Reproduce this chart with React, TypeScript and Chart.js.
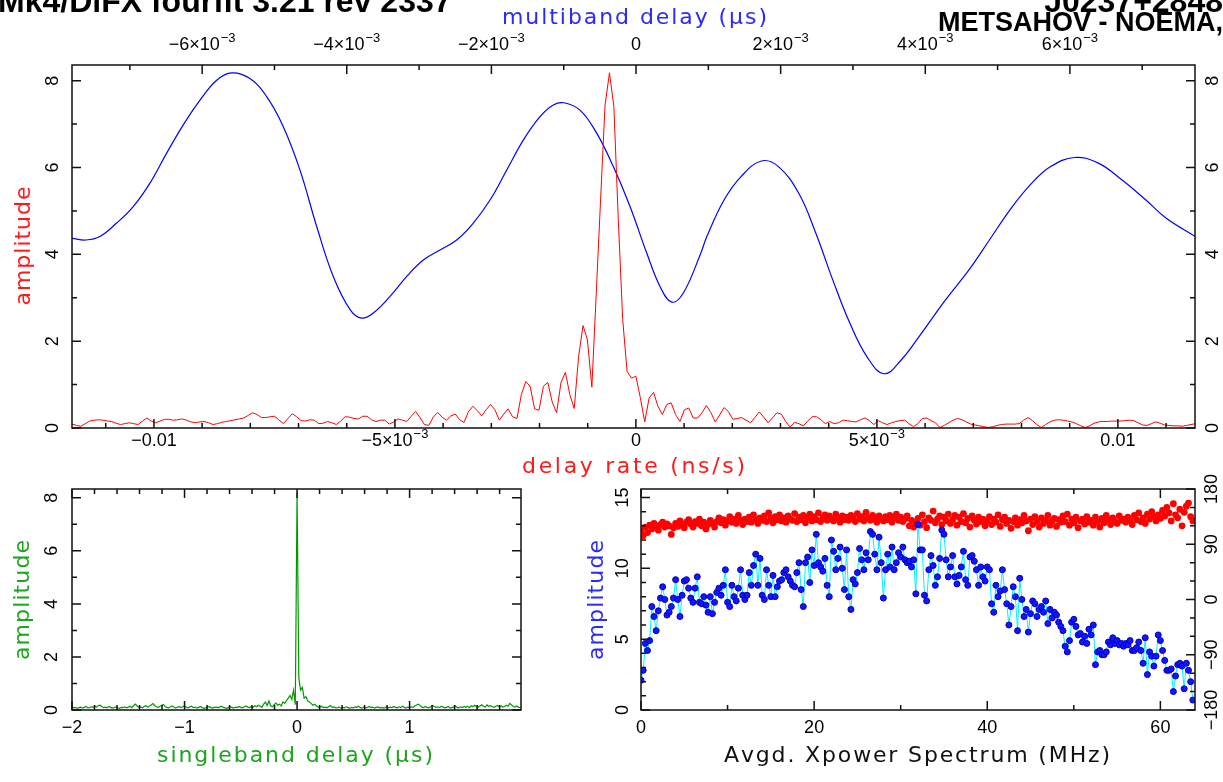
import React, { useEffect, useRef } from 'react';
import { Chart, registerables } from 'chart.js';

Chart.register(...registerables);

// ---------------- data: delay-rate spectrum (red, top panel) ----------------
const RATE_MIN = -0.0117;
const RATE_STEP = 0.0234 / 256;
const rateAmp = [
  0.09, 0.06, 0.04, 0.10, 0.16, 0.18, 0.19, 0.18, 0.16, 0.15, 0.11, 0.08, 0.10, 0.12, 0.10, 0.08,
  0.16, 0.23, 0.16, 0.12, 0.16, 0.20, 0.20, 0.18, 0.19, 0.21, 0.18, 0.14, 0.12, 0.14, 0.15, 0.12,
  0.08, 0.10, 0.13, 0.15, 0.17, 0.19, 0.21, 0.23, 0.29, 0.35, 0.31, 0.24, 0.24, 0.26, 0.27, 0.18,
  0.10, 0.22, 0.33, 0.26, 0.17, 0.16, 0.19, 0.18, 0.10, 0.11, 0.15, 0.12, 0.08, 0.16, 0.26, 0.25,
  0.22, 0.21, 0.27, 0.27, 0.19, 0.15, 0.18, 0.18, 0.09, 0.14, 0.21, 0.18, 0.15, 0.27, 0.38, 0.24,
  0.08, 0.06, 0.25, 0.36, 0.25, 0.18, 0.28, 0.32, 0.19, 0.13, 0.38, 0.50, 0.40, 0.28, 0.42, 0.54,
  0.42, 0.18, 0.32, 0.44, 0.26, 0.22, 0.77, 1.07, 0.96, 0.44, 0.41, 0.96, 1.05, 0.60, 0.35, 1.05,
  1.28, 0.77, 0.45, 1.65, 2.36, 2.03, 0.94, 3.10, 5.30, 7.44, 8.18, 7.40, 4.80, 2.50, 1.30, 1.15,
  1.19, 0.70, 0.14, 0.69, 0.82, 0.50, 0.31, 0.54, 0.58, 0.31, 0.15, 0.42, 0.46, 0.23, 0.23, 0.35,
  0.52, 0.36, 0.14, 0.30, 0.47, 0.38, 0.20, 0.22, 0.24, 0.18, 0.12, 0.24, 0.37, 0.25, 0.12, 0.23,
  0.35, 0.32, 0.15, 0.02, 0.13, 0.10, 0.05, 0.16, 0.26, 0.26, 0.19, 0.10, 0.15, 0.10, 0.12, 0.18,
  0.17, 0.15, 0.14, 0.19, 0.23, 0.17, 0.08, 0.17, 0.12, 0.08, 0.12, 0.15, 0.17, 0.18, 0.10, 0.03,
  0.10, 0.22, 0.23, 0.17, 0.12, 0.01, 0.06, 0.12, 0.18, 0.22, 0.19, 0.14, 0.09, 0.07, 0.05, 0.03,
  0.01, 0.03, 0.06, 0.08, 0.09, 0.09, 0.09, 0.10, 0.18, 0.24, 0.17, 0.08, 0.01, 0.08, 0.14, 0.18,
  0.19, 0.18, 0.16, 0.14, 0.10, 0.05, 0.01, 0.05, 0.11, 0.14, 0.15, 0.15, 0.16, 0.16, 0.16, 0.17,
  0.18, 0.17, 0.12, 0.07, 0.06, 0.10, 0.14, 0.11, 0.07, 0.06, 0.05, 0.05, 0.04, 0.06, 0.08, 0.10,
];

// ---------------- data: multiband delay (blue, top panel, top axis) ----------------
const mbdDelay = [
  -0.007805, -0.007607, -0.007414, -0.007183, -0.006953, -0.006722, -0.006491, -0.006261,
  -0.006030, -0.005799, -0.005592, -0.005339, -0.005108, -0.004878, -0.004647, -0.004416,
  -0.004187, -0.003952, -0.003794, -0.003633, -0.003402, -0.003171, -0.002942, -0.002711,
  -0.002480, -0.002250, -0.002019, -0.001788, -0.001559, -0.001328, -0.001144, -0.000996,
  -0.000775, -0.000544, -0.000314, -0.000083, 0.000148, 0.000332, 0.000494, 0.000654,
  0.000885, 0.000982, 0.001217, 0.001452, 0.001734, 0.001970, 0.002252, 0.002488,
  0.002723, 0.002958, 0.003194, 0.003429, 0.003664, 0.003946, 0.004275, 0.004604,
  0.004887, 0.005169, 0.005451, 0.005733, 0.006064, 0.006393, 0.006722, 0.007051,
  0.007333, 0.007743,
];
const mbdAmp = [
  4.37, 4.33, 4.41, 4.72, 5.10, 5.64, 6.33, 6.98,
  7.55, 8.01, 8.18, 8.05, 7.63, 6.94, 5.94, 4.64,
  3.49, 2.72, 2.53, 2.65, 3.03, 3.49, 3.87, 4.10,
  4.33, 4.72, 5.25, 5.94, 6.63, 7.17, 7.44, 7.49,
  7.32, 6.79, 6.02, 5.10, 4.03, 3.26, 2.90, 3.11,
  3.98, 4.42, 5.25, 5.79, 6.15, 6.02, 5.40, 4.48,
  3.40, 2.41, 1.64, 1.25, 1.56, 2.18, 2.94, 3.64,
  4.33, 5.02, 5.60, 6.02, 6.23, 6.10, 5.71, 5.25,
  4.83, 4.40,
];

// ---------------- data: singleband delay (green, bottom-left) ----------------
const SBD_START = -2;
const SBD_STEP = 1 / 64;
const sbdAmp = [
  0.12, 0.08, 0.10, 0.06, 0.09, 0.11, 0.07, 0.10, 0.13, 0.08, 0.09, 0.12, 0.10, 0.14, 0.11, 0.17,
  0.18, 0.12, 0.09, 0.11, 0.08, 0.13, 0.10, 0.07, 0.09, 0.12, 0.08, 0.06, 0.10, 0.09, 0.12, 0.08,
  0.11, 0.14, 0.09, 0.16, 0.22, 0.15, 0.10, 0.12, 0.08, 0.13, 0.16, 0.11, 0.14, 0.19, 0.24, 0.17,
  0.12, 0.09, 0.14, 0.18, 0.21, 0.13, 0.10, 0.08, 0.12, 0.15, 0.10, 0.07, 0.11, 0.13, 0.09, 0.12,
  0.16, 0.10, 0.08, 0.12, 0.14, 0.09, 0.11, 0.07, 0.10, 0.13, 0.09, 0.06, 0.08, 0.11, 0.13, 0.09,
  0.07, 0.10, 0.12, 0.08, 0.11, 0.14, 0.10, 0.08, 0.06, 0.09, 0.12, 0.10, 0.07, 0.11, 0.09, 0.13,
  0.10, 0.08, 0.12, 0.15, 0.11, 0.09, 0.13, 0.10, 0.16, 0.12, 0.18, 0.14, 0.10, 0.22, 0.30, 0.17,
  0.34, 0.15, 0.12, 0.20, 0.26, 0.18, 0.22, 0.15, 0.30, 0.25, 0.35, 0.45, 0.55, 0.40, 0.75, 0.20,
  8.20, 1.20, 0.75, 0.85, 0.45, 0.50, 0.35, 0.30, 0.25, 0.18, 0.22, 0.15, 0.12, 0.10, 0.14, 0.09,
  0.11, 0.08, 0.13, 0.17, 0.10, 0.12, 0.08, 0.09, 0.11, 0.07, 0.10, 0.08, 0.12, 0.09, 0.06, 0.10,
  0.08, 0.12, 0.10, 0.14, 0.09, 0.07, 0.11, 0.08, 0.10, 0.13, 0.09, 0.11, 0.07, 0.10, 0.12, 0.08,
  0.10, 0.07, 0.09, 0.12, 0.08, 0.11, 0.09, 0.13, 0.10, 0.08, 0.12, 0.09, 0.14, 0.10, 0.07, 0.11,
  0.09, 0.12, 0.10, 0.15, 0.19, 0.22, 0.16, 0.11, 0.09, 0.13, 0.10, 0.08, 0.12, 0.17, 0.14, 0.10,
  0.12, 0.09, 0.14, 0.11, 0.08, 0.10, 0.13, 0.07, 0.09, 0.11, 0.15, 0.10, 0.08, 0.12, 0.09, 0.13,
  0.10, 0.14, 0.09, 0.16, 0.12, 0.18, 0.13, 0.10, 0.15, 0.20, 0.14, 0.11, 0.19, 0.13, 0.16, 0.12,
  0.10, 0.14, 0.17, 0.12, 0.15, 0.11, 0.13, 0.18, 0.14, 0.25, 0.19, 0.13, 0.11, 0.15, 0.10, 0.09,
];

// ---------------- data: cross-power spectrum (bottom-right) ----------------
const FREQ_STEP = 0.25; // MHz
const specAmp = [
  2.1, 2.8, 4.7, 4.2, 4.9, 7.3, 6.6, 5.6, 7.0, 7.9, 8.7, 7.8, 6.7, 6.9, 7.3, 7.9,
  9.2, 7.8, 6.6, 8.1, 9.1, 9.2, 8.6, 7.9, 7.6, 8.6, 9.4, 7.6, 7.5, 8.0, 7.4, 6.9,
  8.0, 6.8, 7.6, 8.3, 8.6, 8.1, 8.8, 9.9, 7.6, 7.3, 8.8, 8.0, 7.7, 8.6, 9.9, 8.1,
  7.8, 8.1, 9.7, 8.8, 10.2, 11.0, 8.8, 10.7, 8.1, 7.8, 9.9, 8.8, 8.0, 9.5, 8.0, 8.7,
  9.1, 9.2, 9.7, 9.9, 9.4, 9.1, 8.8, 8.7, 9.7, 10.4, 8.5, 7.3, 10.4, 10.8, 9.0, 11.3,
  10.2, 12.4, 10.4, 10.1, 9.8, 10.7, 8.8, 8.0, 12.0, 11.2, 9.9, 10.7, 11.5, 10.0, 8.5, 11.3,
  8.0, 7.1, 9.2, 8.9, 9.7, 11.4, 10.6, 9.9, 11.1, 10.6, 12.6, 12.4, 11.0, 9.9, 12.2, 10.4,
  7.9, 9.9, 11.0, 10.1, 11.5, 9.9, 10.4, 11.1, 10.8, 11.5, 10.6, 10.4, 10.5, 10.1, 10.6, 8.2,
  13.1, 11.3, 11.3, 8.1, 7.7, 9.9, 10.9, 10.2, 8.8, 9.4, 10.7, 12.7, 12.4, 10.6, 9.4, 10.1,
  10.9, 9.4, 8.9, 9.5, 10.1, 11.2, 9.2, 8.8, 10.8, 10.9, 10.5, 9.9, 8.8, 10.1, 9.4, 9.1,
  10.1, 9.9, 7.5, 6.9, 8.8, 8.0, 8.4, 9.9, 8.5, 7.5, 6.0, 7.3, 8.7, 8.0, 5.6, 9.3,
  7.8, 6.6, 7.1, 5.5, 6.8, 7.7, 7.5, 6.6, 7.1, 7.3, 6.9, 7.7, 6.1, 7.1, 6.5, 6.9,
  6.7, 6.2, 5.9, 5.6, 4.5, 4.1, 4.9, 6.2, 6.4, 5.9, 5.3, 5.4, 4.8, 5.2, 4.7, 5.7,
  5.3, 6.0, 3.2, 4.1, 4.2, 3.9, 3.9, 4.1, 4.8, 4.6, 5.1, 4.7, 4.9, 4.6, 4.7, 4.5,
  4.7, 4.6, 4.9, 4.2, 4.2, 4.4, 4.8, 4.2, 3.3, 5.1, 2.5, 4.1, 3.8, 3.1, 3.8, 5.3,
  4.9, 4.2, 3.5, 2.8, 2.8, 2.9, 1.3, 2.4, 3.2, 3.3, 3.1, 1.5, 3.3, 2.8, 2.0, 0.7,
];
const specPhase = [
  112, 104, 118, 109, 121, 115, 124, 119, 113, 122, 126, 118, 123, 120, 106, 117,
  124, 119, 128, 121, 117, 126, 130, 123, 118, 127, 124, 131, 120, 126, 115, 122,
  129, 124, 118, 127, 133, 125, 130, 121, 128, 135, 126, 131, 124, 137, 129, 122,
  131, 127, 134, 126, 138, 130, 124, 133, 129, 136, 127, 141, 132, 125, 135, 130,
  138, 128, 133, 126, 136, 131, 129, 140, 127, 134, 130, 137, 125, 133, 139, 128,
  135, 130, 141, 127, 133, 138, 129, 136, 131, 128, 139, 133, 126, 136, 130, 134,
  129, 137, 132, 127, 140, 131, 135, 128, 142, 133, 129, 137, 131, 126, 136, 132,
  128, 135, 130, 137, 126, 133, 139, 129, 134, 127, 131, 136, 120, 129, 118, 125,
  132, 121, 138, 127, 117, 133, 129, 144, 125, 131, 136, 122, 134, 128, 139, 124,
  130, 137, 121, 134, 127, 140, 125, 132, 118, 136, 129, 123, 134, 127, 131, 120,
  128, 135, 122, 131, 126, 138, 119, 130, 134, 124, 129, 116, 127, 133, 121, 130,
  125, 137, 128, 112, 131, 122, 135, 127, 118, 133, 124, 129, 137, 121, 128, 132,
  119, 130, 126, 136, 127, 139, 121, 131, 125, 134, 117, 128, 131, 123, 135, 126,
  129, 121, 134, 127, 118, 132, 125, 137, 130, 122, 133, 127, 124, 136, 129, 131,
  126, 134, 128, 122, 137, 130, 141, 127, 133, 124, 139, 131, 143, 135, 128, 138,
  132, 145, 136, 150, 141, 128, 156, 138, 133, 147, 120, 142, 152, 157, 135, 128,
];

// ---------------- tick labels ----------------
const rateTicks = [-0.01, -0.005, 0, 0.005, 0.01];
const rateTickLabels = ['\u22120.01', '\u22125\u00d710^\u22123', '0', '5\u00d710^\u22123', '0.01'];
const mbdTicks = [-0.006, -0.004, -0.002, 0, 0.002, 0.004, 0.006];
const mbdTickLabels = [
  '\u22126\u00d710^\u22123', '\u22124\u00d710^\u22123', '\u22122\u00d710^\u22123', '0',
  '2\u00d710^\u22123', '4\u00d710^\u22123', '6\u00d710^\u22123',
];
const ampTicks = [0, 2, 4, 6, 8];
const ampTickLabels = ['0', '2', '4', '6', '8'];
const sbdTicks = [-2, -1, 0, 1];
const sbdTickLabels = ['\u22122', '\u22121', '0', '1'];
const freqTicks = [0, 20, 40, 60];
const freqTickLabels = ['0', '20', '40', '60'];
const specAmpTicks = [0, 5, 10, 15];
const specAmpTickLabels = ['0', '5', '10', '15'];
const phaseTicks = [-180, -90, 0, 90, 180];
const phaseTickLabels = ['\u2212180', '\u221290', '0', '90', '180'];

// ---------------- drawing helpers ----------------
const TICK_FONT = '18px "Liberation Sans", Arial, sans-serif';
const SUP_FONT = '13px "Liberation Sans", Arial, sans-serif';
const TITLE_FONT = '22px "DejaVu Sans", sans-serif';
const FRAME = '#111111';

type Side = 'left' | 'right' | 'top' | 'bottom';
interface AxisDef {
  side: Side;
  scale: string;
  minor: number;
  major: number;
  ticks?: number[];
  labels?: string[];
  offset?: number;
}
interface TextDef {
  text: string;
  x: number;
  y: number;
  width: number;
  color: string;
  rotate?: boolean;
}
interface HeadDef {
  text: string;
  x: number;
  y: number;
  align: CanvasTextAlign;
  font: string;
}
interface Decor {
  axes: AxisDef[];
  titles: TextDef[];
  heads?: HeadDef[];
}

function drawTickLabel(ctx: CanvasRenderingContext2D, text: string, cx: number, cy: number, rotate: boolean) {
  const parts = text.split('^');
  const base = parts[0];
  const sup = parts[1];
  ctx.font = TICK_FONT;
  const wb = ctx.measureText(base).width;
  let ws = 0;
  if (sup) {
    ctx.font = SUP_FONT;
    ws = ctx.measureText(sup).width + 1;
  }
  const w = wb + ws;
  ctx.save();
  ctx.translate(cx, cy);
  if (rotate) ctx.rotate(-Math.PI / 2);
  ctx.fillStyle = '#000';
  ctx.textAlign = 'left';
  ctx.textBaseline = 'middle';
  ctx.font = TICK_FONT;
  ctx.fillText(base, -w / 2, 0);
  if (sup) {
    ctx.font = SUP_FONT;
    ctx.fillText(sup, -w / 2 + wb + 1, -7);
  }
  ctx.restore();
}

function drawSpaced(ctx: CanvasRenderingContext2D, t: TextDef) {
  ctx.save();
  ctx.font = TITLE_FONT;
  ctx.fillStyle = t.color;
  ctx.textAlign = 'left';
  ctx.textBaseline = 'middle';
  const chars = Array.from(t.text);
  const widths = chars.map((c) => ctx.measureText(c).width);
  const natural = widths.reduce((s, v) => s + v, 0);
  const gap = chars.length > 1 ? (t.width - natural) / (chars.length - 1) : 0;
  ctx.translate(t.x, t.y);
  if (t.rotate) ctx.rotate(-Math.PI / 2);
  let x = -t.width / 2;
  chars.forEach((c, i) => {
    ctx.fillText(c, x, 0);
    x += widths[i] + gap;
  });
  ctx.restore();
}

function decorPlugin(decor: Decor) {
  return {
    id: 'pgplotDecor',
    afterDraw(chart: any) {
      const ctx: CanvasRenderingContext2D = chart.ctx;
      const a = chart.chartArea;
      ctx.save();
      ctx.strokeStyle = FRAME;
      ctx.lineWidth = 1.5;
      ctx.strokeRect(a.left, a.top, a.right - a.left, a.bottom - a.top);
      for (const ax of decor.axes) {
        const sc = chart.scales[ax.scale];
        const lo = Math.min(sc.min, sc.max);
        const hi = Math.max(sc.min, sc.max);
        const k0 = Math.ceil(lo / ax.minor - 1e-7);
        const k1 = Math.floor(hi / ax.minor + 1e-7);
        ctx.beginPath();
        for (let k = k0; k <= k1; k++) {
          const v = k * ax.minor;
          const r = v / ax.major;
          const isMajor = Math.abs(r - Math.round(r)) < 1e-6;
          const len = isMajor ? 9 : 5;
          const p = sc.getPixelForValue(v);
          if (ax.side === 'bottom') { ctx.moveTo(p, a.bottom); ctx.lineTo(p, a.bottom - len); }
          if (ax.side === 'top') { ctx.moveTo(p, a.top); ctx.lineTo(p, a.top + len); }
          if (ax.side === 'left') { ctx.moveTo(a.left, p); ctx.lineTo(a.left + len, p); }
          if (ax.side === 'right') { ctx.moveTo(a.right, p); ctx.lineTo(a.right - len, p); }
        }
        ctx.stroke();
        if (ax.ticks && ax.labels) {
          const off = ax.offset ?? 18;
          ax.ticks.forEach((v, i) => {
            const p = sc.getPixelForValue(v);
            const lab = ax.labels![i];
            if (ax.side === 'bottom') drawTickLabel(ctx, lab, p, a.bottom + off, false);
            if (ax.side === 'top') drawTickLabel(ctx, lab, p, a.top - off, false);
            if (ax.side === 'left') drawTickLabel(ctx, lab, a.left - off, p, true);
            if (ax.side === 'right') drawTickLabel(ctx, lab, a.right + off, p, true);
          });
        }
      }
      decor.titles.forEach((t) => drawSpaced(ctx, t));
      (decor.heads || []).forEach((h) => {
        ctx.font = h.font;
        ctx.fillStyle = '#000';
        ctx.textAlign = h.align;
        ctx.textBaseline = 'alphabetic';
        ctx.fillText(h.text, h.x, h.y);
      });
      ctx.restore();
    },
  };
}

const baseOptions = (padding: any) => ({
  responsive: false,
  animation: false,
  devicePixelRatio: 1,
  events: [],
  layout: { padding },
  plugins: { legend: { display: false }, tooltip: { enabled: false } },
});

// ---------------- chart configs ----------------
function buildTop(): any {
  return {
    type: 'line',
    data: {
      datasets: [
        {
          data: rateAmp.map((y, i) => ({ x: RATE_MIN + i * RATE_STEP, y })),
          xAxisID: 'x', yAxisID: 'y',
          borderColor: '#ff0000', borderWidth: 1, pointRadius: 0, tension: 0,
        },
        {
          data: mbdDelay.map((x, i) => ({ x, y: mbdAmp[i] })),
          xAxisID: 'x2', yAxisID: 'y',
          borderColor: '#0000ff', borderWidth: 1.2, pointRadius: 0, tension: 0.4,
        },
      ],
    },
    options: {
      ...baseOptions({ left: 72, right: 28, top: 65, bottom: 52 }),
      scales: {
        x: { type: 'linear', display: false, min: -0.0117, max: 0.0116 },
        x2: { type: 'linear', display: false, position: 'top', min: -0.0078, max: 0.00773 },
        y: { type: 'linear', display: false, min: 0, max: 8.36 },
      },
    },
    plugins: [
      decorPlugin({
        axes: [
          { side: 'bottom', scale: 'x', minor: 0.001, major: 0.005, ticks: rateTicks, labels: rateTickLabels, offset: 13 },
          { side: 'top', scale: 'x2', minor: 0.001, major: 0.002, ticks: mbdTicks, labels: mbdTickLabels, offset: 20 },
          { side: 'left', scale: 'y', minor: 1, major: 2, ticks: ampTicks, labels: ampTickLabels, offset: 19 },
          { side: 'right', scale: 'y', minor: 1, major: 2, ticks: ampTicks, labels: ampTickLabels, offset: 18 },
        ],
        titles: [
          { text: 'multiband delay (\u00b5s)', x: 634.5, y: 18, width: 265, color: '#2a2aff' },
          { text: 'delay rate (ns/s)', x: 633.5, y: 467, width: 223, color: '#ff1a1a' },
          { text: 'amplitude', x: 24, y: 246, width: 119, color: '#ff1a1a', rotate: true },
        ],
        heads: [
          { text: 'Mk4/DiFX fourfit 3.21 rev 2337', x: -2, y: 12, align: 'left', font: 'bold 32px "Liberation Sans", Arial, sans-serif' },
          { text: 'J0237+2848', x: 1223, y: 12, align: 'right', font: 'bold 32px "Liberation Sans", Arial, sans-serif' },
          { text: 'METSAHOV - NOEMA,', x: 1223, y: 31, align: 'right', font: 'bold 27px "Liberation Sans", Arial, sans-serif' },
        ],
      }),
    ],
  };
}

// bottom panels: canvases start at y = 455 so labels above the frame are not clipped
const BOTTOM_TOP = 455;

function buildSbd(): any {
  return {
    type: 'line',
    data: {
      datasets: [
        {
          data: sbdAmp.map((y, i) => ({ x: SBD_START + i * SBD_STEP, y })),
          borderColor: '#009a00', borderWidth: 1.2, pointRadius: 0, tension: 0,
        },
      ],
    },
    options: {
      ...baseOptions({ left: 72, right: 39, top: 489 - BOTTOM_TOP, bottom: 72 }),
      scales: {
        x: { type: 'linear', display: false, min: -2, max: 1.99 },
        y: { type: 'linear', display: false, min: 0, max: 8.33 },
      },
    },
    plugins: [
      decorPlugin({
        axes: [
          { side: 'bottom', scale: 'x', minor: 0.2, major: 1, ticks: sbdTicks, labels: sbdTickLabels, offset: 18 },
          { side: 'top', scale: 'x', minor: 0.2, major: 1 },
          { side: 'left', scale: 'y', minor: 1, major: 2, ticks: ampTicks, labels: ampTickLabels, offset: 20 },
          { side: 'right', scale: 'y', minor: 1, major: 2 },
        ],
        titles: [
          { text: 'singleband delay (\u00b5s)', x: 295, y: 756 - BOTTOM_TOP, width: 276, color: '#1ea51e' },
          { text: 'amplitude', x: 23, y: 600 - BOTTOM_TOP, width: 120, color: '#1ea51e', rotate: true },
        ],
      }),
    ],
  };
}

function buildSpec(): any {
  return {
    type: 'line',
    data: {
      datasets: [
        {
          data: specAmp.map((y, i) => ({ x: i * FREQ_STEP, y })),
          xAxisID: 'x', yAxisID: 'y',
          borderColor: '#00f0ff', borderWidth: 1, tension: 0,
          pointRadius: 3, pointBackgroundColor: '#1414ff', pointBorderColor: '#0000c0', pointBorderWidth: 1,
        },
        {
          data: specPhase.map((y, i) => ({ x: i * FREQ_STEP, y })),
          xAxisID: 'x', yAxisID: 'y2', showLine: false,
          pointRadius: 3.4, pointBackgroundColor: '#ff0000', pointBorderColor: '#ff0000', pointBorderWidth: 0,
        },
      ],
    },
    options: {
      ...baseOptions({ left: 81, right: 28, top: 489 - BOTTOM_TOP, bottom: 72 }),
      scales: {
        x: { type: 'linear', display: false, min: 0, max: 64 },
        y: { type: 'linear', display: false, min: 0, max: 15.6 },
        y2: { type: 'linear', display: false, position: 'right', min: -180, max: 180 },
      },
    },
    plugins: [
      decorPlugin({
        axes: [
          { side: 'bottom', scale: 'x', minor: 10, major: 20, ticks: freqTicks, labels: freqTickLabels, offset: 18 },
          { side: 'top', scale: 'x', minor: 10, major: 20 },
          { side: 'left', scale: 'y', minor: 1, major: 5, ticks: specAmpTicks, labels: specAmpTickLabels, offset: 18 },
          { side: 'right', scale: 'y2', minor: 30, major: 90, ticks: phaseTicks, labels: phaseTickLabels, offset: 17 },
        ],
        titles: [
          { text: 'Avgd. Xpower Spectrum (MHz)', x: 357, y: 756 - BOTTOM_TOP, width: 386, color: '#111111' },
          { text: 'amplitude', x: 37, y: 600 - BOTTOM_TOP, width: 120, color: '#2a2aff', rotate: true },
        ],
      }),
    ],
  };
}

function ChartBox(props: { left: number; top: number; width: number; height: number; build: () => any }) {
  const ref = useRef<HTMLCanvasElement>(null);
  useEffect(() => {
    const chart = new Chart(ref.current as HTMLCanvasElement, props.build());
    return () => chart.destroy();
  }, []);
  return (
    <canvas
      ref={ref}
      width={props.width}
      height={props.height}
      style={{ position: 'absolute', left: props.left, top: props.top, width: props.width, height: props.height }}
    />
  );
}

export default function App() {
  return (
    <div style={{ position: 'absolute', left: 0, top: 0, width: 1223, height: 782, background: '#ffffff', overflow: 'hidden' }}>
      <ChartBox left={0} top={0} width={1223} height={480} build={buildTop} />
      <ChartBox left={0} top={BOTTOM_TOP} width={560} height={782 - BOTTOM_TOP} build={buildSbd} />
      <ChartBox left={560} top={BOTTOM_TOP} width={663} height={782 - BOTTOM_TOP} build={buildSpec} />
    </div>
  );
}
